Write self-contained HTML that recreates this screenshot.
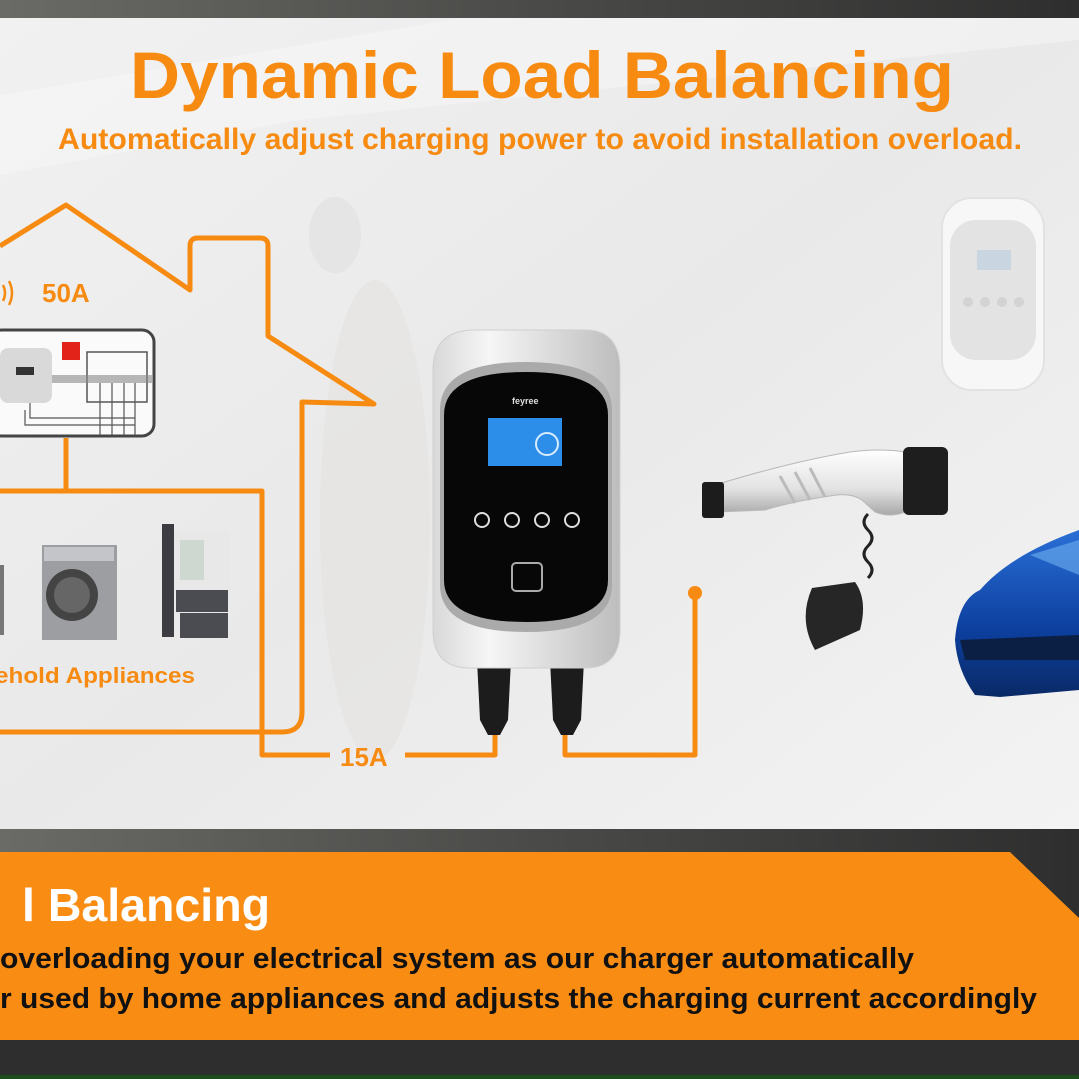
<!DOCTYPE html>
<html><head><meta charset="utf-8"><style>
html,body{margin:0;padding:0;width:1079px;height:1079px;overflow:hidden;background:#3a3a3a}
svg{display:block}
text{font-family:"Liberation Sans",sans-serif;font-weight:bold}
</style></head><body>
<svg width="1079" height="1079" viewBox="0 0 1079 1079" xmlns="http://www.w3.org/2000/svg">
<defs>
<linearGradient id="bg" x1="0" y1="0" x2="1" y2="1">
<stop offset="0" stop-color="#f1f1f1"/><stop offset="0.5" stop-color="#e9e9e9"/><stop offset="1" stop-color="#f3f3f3"/></linearGradient>
<linearGradient id="dark" x1="0" y1="0" x2="1" y2="0">
<stop offset="0" stop-color="#6a6a66"/><stop offset="0.5" stop-color="#4a4a48"/><stop offset="1" stop-color="#2e2e2e"/></linearGradient>
<linearGradient id="silver" x1="0" y1="0" x2="1" y2="0">
<stop offset="0" stop-color="#d8d8d8"/><stop offset="0.3" stop-color="#f6f6f6"/><stop offset="1" stop-color="#bdbdbd"/></linearGradient>
<linearGradient id="plug" x1="0" y1="0" x2="0" y2="1">
<stop offset="0" stop-color="#ffffff"/><stop offset="0.6" stop-color="#e2e2e2"/><stop offset="1" stop-color="#a8a8a8"/></linearGradient>
<linearGradient id="car" x1="0" y1="0" x2="0" y2="1">
<stop offset="0" stop-color="#2a6fd6"/><stop offset="0.6" stop-color="#0c3f9e"/><stop offset="1" stop-color="#0a2a66"/></linearGradient>
</defs>
<rect x="0" y="0" width="1079" height="20" fill="url(#dark)"/>
<rect x="0" y="18" width="1079" height="811" fill="url(#bg)"/>
<path d="M0 95 L460 18 L1079 18 L1079 40 L300 120 L0 175Z" fill="#f7f7f7" opacity="0.5"/>
<ellipse cx="375" cy="520" rx="55" ry="240" fill="#e3dfdb" opacity="0.45"/>
<ellipse cx="335" cy="235" rx="26" ry="38" fill="#dedede" opacity="0.5"/>
<!-- ghost charger right -->
<rect x="942" y="198" width="102" height="192" rx="30" fill="#f7f7f7" stroke="#e2e2e2" stroke-width="2"/>
<rect x="950" y="220" width="86" height="140" rx="26" fill="#e3e3e3"/>
<rect x="977" y="250" width="34" height="20" fill="#c9d6e2"/>
<g fill="#d3d3d3"><circle cx="968" cy="302" r="5"/><circle cx="985" cy="302" r="5"/><circle cx="1002" cy="302" r="5"/><circle cx="1019" cy="302" r="5"/></g>
<!-- dark band + banner -->
<rect x="0" y="829" width="1079" height="250" fill="url(#dark)"/>
<rect x="0" y="1040" width="1079" height="39" fill="#2e2e2e"/>
<rect x="0" y="1075" width="1079" height="4" fill="#1d4d1d"/>
<path d="M0 852 L1010 852 L1079 918 L1079 1040 L0 1040Z" fill="#f98d14"/>
<text x="22" y="921" font-size="46" fill="#fff" textLength="248" lengthAdjust="spacingAndGlyphs">l Balancing</text>
<text x="0" y="968" font-size="29" fill="#111" textLength="914" lengthAdjust="spacingAndGlyphs">overloading your electrical system as our charger automatically</text>
<text x="0" y="1008" font-size="29" fill="#111" textLength="1037" lengthAdjust="spacingAndGlyphs">r used by home appliances and adjusts the charging current accordingly</text>
<text x="130" y="98" font-size="66" fill="#f78b12" textLength="824" lengthAdjust="spacingAndGlyphs">Dynamic Load Balancing</text>
<text x="58" y="149" font-size="30" fill="#f78b12" textLength="964" lengthAdjust="spacingAndGlyphs">Automatically adjust charging power to avoid installation overload.</text>
<g fill="none" stroke="#f78b12" stroke-width="5" stroke-linejoin="round">
<path d="M0 246 L66 205 L190 290 L190 246 Q190 238 198 238 L260 238 Q268 238 268 246 L268 336 L374 404 L302 402 L302 712 Q302 732 282 732 L0 732"/>
<path d="M0 491 L262 491 L262 755 L330 755"/>
<path d="M66 438 L66 491"/>
<path d="M405 755 L495 755 L495 730"/>
<path d="M565 730 L565 755 L695 755 L695 594"/>
</g>
<circle cx="695" cy="593" r="7" fill="#f78b12"/>
<text x="340" y="766" font-size="26" fill="#f78b12">15A</text>
<text x="42" y="302" font-size="26" fill="#f78b12">50A</text>
<path d="M3 285 q4 8 0 16 M9 281 q6 12 0 24" fill="none" stroke="#f78b12" stroke-width="2.5"/>
<rect x="-10" y="330" width="164" height="106" rx="12" fill="#fafafa" stroke="#444" stroke-width="3"/>
<rect x="0" y="348" width="52" height="55" rx="8" fill="#d9d9d9"/>
<rect x="16" y="367" width="18" height="8" fill="#333"/>
<rect x="62" y="342" width="18" height="18" fill="#e2231a"/>
<rect x="87" y="352" width="60" height="50" fill="none" stroke="#555" stroke-width="1.5"/>
<rect x="52" y="375" width="100" height="8" fill="#888" opacity="0.6"/>
<path d="M100 383 V435 M112 383 V435 M124 383 V435 M135 383 V435 M30 403 V418 H135 M25 410 V425 H135" stroke="#555" stroke-width="1.2" fill="none"/>
<rect x="42" y="545" width="75" height="95" fill="#9c9ea2"/>
<rect x="44" y="547" width="70" height="14" fill="#c4c5c8"/>
<circle cx="72" cy="595" r="26" fill="#444"/><circle cx="72" cy="595" r="18" fill="#666"/>
<rect x="0" y="565" width="4" height="70" fill="#777"/>
<rect x="162" y="524" width="12" height="113" fill="#3b3d42"/>
<rect x="174" y="532" width="56" height="58" fill="#e8e8e8"/>
<rect x="176" y="590" width="52" height="22" fill="#4a4c52"/>
<rect x="180" y="613" width="48" height="25" fill="#4a4c52"/>
<rect x="180" y="540" width="24" height="40" fill="#cfd8d0"/>
<text x="-5" y="683" font-size="22" fill="#f78b12" textLength="200" lengthAdjust="spacingAndGlyphs">ehold Appliances</text>
<!-- charger -->
<path d="M477 660 L511 660 L508 720 L500 735 L488 735 L480 720Z" fill="#1c1c1c"/>
<path d="M550 660 L584 660 L581 720 L573 735 L561 735 L553 720Z" fill="#1c1c1c"/>
<path d="M433 370 Q433 330 475 330 L585 330 Q620 330 620 370 L620 630 Q620 668 585 668 L470 668 Q433 668 433 630Z" fill="url(#silver)" stroke="#cfcfcf"/>
<path d="M440 410 Q440 362 526 362 Q612 362 612 410 L612 585 Q612 632 526 632 Q440 632 440 585Z" fill="#aaaaaa"/>
<path d="M444 415 Q444 372 526 372 Q608 372 608 415 L608 580 Q608 622 526 622 Q444 622 444 580Z" fill="#070707"/>
<rect x="488" y="418" width="74" height="48" fill="#2c8ee8"/>
<circle cx="547" cy="444" r="11" fill="none" stroke="#d8ecff" stroke-width="2"/>
<g fill="none" stroke="#ddd" stroke-width="2"><circle cx="482" cy="520" r="7"/><circle cx="512" cy="520" r="7"/><circle cx="542" cy="520" r="7"/><circle cx="572" cy="520" r="7"/></g>
<rect x="512" y="563" width="30" height="28" rx="4" fill="none" stroke="#aaa" stroke-width="2"/>
<text x="512" y="404" font-size="9" fill="#ddd">feyree</text>
<!-- plug -->
<path d="M715 485 Q790 462 850 452 Q880 448 905 452 L905 512 Q890 518 875 512 L862 500 Q850 492 830 496 Q790 502 765 510 L718 512Z" fill="url(#plug)" stroke="#b8b8b8"/>
<g stroke="#bbb" stroke-width="3"><path d="M780 476 L795 503"/><path d="M795 472 L810 500"/><path d="M810 468 L825 497"/></g>
<rect x="702" y="482" width="22" height="36" rx="3" fill="#1c1c1c"/>
<rect x="903" y="447" width="45" height="68" rx="6" fill="#1e1e1e"/>
<path d="M868 514 q-8 8 0 16 q8 8 0 16 q-8 8 0 16 q8 8 0 16" fill="none" stroke="#222" stroke-width="3"/>
<path d="M812 588 L855 582 Q868 600 860 630 L815 650 Q798 620 812 588Z" fill="#262626"/>
<!-- car -->
<path d="M1079 530 Q1010 555 980 590 Q958 600 955 640 Q957 670 975 695 L1000 697 L1079 690Z" fill="url(#car)"/>
<path d="M960 640 L1079 635 L1079 660 L965 660Z" fill="#0b1f45"/>
<path d="M1030 555 L1079 540 L1079 575 Z" fill="#6fb0f0" opacity="0.6"/>
</svg>
</body></html>
